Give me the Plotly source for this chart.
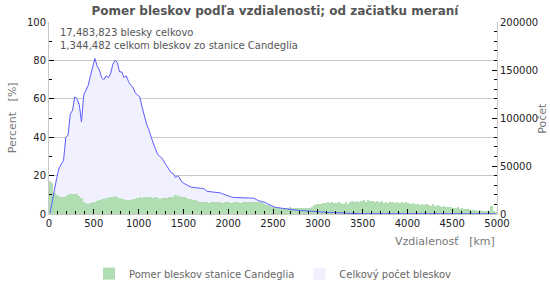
import plotly.graph_objects as go

# distance bins (km, left edge of each 25 km bin)
distance_km = list(range(0, 5000, 25))

# share of strikes recorded by station Candeglia (%)
candeglia_pct = [
    17, 16, 11, 10, 9.5, 9, 9, 9.5, 9.8, 10.2, 10.5, 10.4, 10.5, 9.5, 8.5, 6.5, 5.8, 5.3, 5.5, 6,
    6.3, 6.8, 7.2, 7.6, 8, 8.2, 8.5, 8.8, 9, 9.4, 8.8, 8.2, 8, 7.8, 7.5, 7.3, 7.4, 7.6, 8, 8.2,
    8.6, 8.4, 8.8, 9, 9, 8.6, 8.4, 8.6, 8.2, 8.0, 8.4, 8.2, 8.4, 8.6, 8.8, 9.0, 9.7, 9.5, 9.2, 8.8,
    8.6, 8.2, 7.8, 7.6, 7.4, 7.2, 6.8, 6.3, 6.2, 6.5, 6.0, 5.8, 6.2, 6.0, 6.3, 6.1, 6.0, 5.8, 6.2, 6.4,
    6.0, 5.9, 6.1, 6.3, 6.0, 5.8, 6.2, 6.0, 6.4, 6.1, 6.3, 6.0, 6.2, 6.5, 6.1, 5.5, 5.0, 4.5, 4.2, 3.8,
    3.6, 3.4, 3.2, 3.0, 3.3, 3.1, 3.0, 3.4, 3.2, 3.0, 3.3, 3.1, 2.9, 3.2, 3.0, 3.1, 3.3, 3.6, 4.5, 5.2,
    5.4, 5.0, 5.8, 5.5, 6.0, 5.6, 6.2, 5.8, 5.5, 6.0, 5.7, 5.4, 6.0, 5.2, 6.5, 7.0, 6.4, 6.8, 6.0, 6.6,
    7.2, 6.5, 7.4, 6.8, 7.0, 6.2, 6.8, 6.0, 6.6, 5.8, 6.2, 5.5, 6.0, 6.5, 5.6, 6.2, 5.8, 6.4, 5.5, 6.0,
    5.7, 5.2, 5.6, 5.0, 5.4, 4.8, 5.2, 4.6, 5.0, 4.8, 4.4, 5.0, 4.2, 4.6, 4.0, 3.6, 4.2, 3.8, 3.4, 3.6,
    3.2, 3.0, 3.4, 2.8, 3.0, 2.6, 2.4, 2.8, 2.2, 2.0, 2.2, 1.8, 2.0, 1.6, 1.8, 1.5, 1.4, 4.2, 1.6, 1.2,
]

# total number of strikes per distance bin
total_count = [
    1000, 12000, 26000, 38000, 48000, 52000, 56000, 80000, 82000, 104000,
    108000, 122000, 120000, 114000, 96000, 124000, 130000, 134000, 144000, 154000,
    162000, 154000, 150000, 142000, 140000, 144000, 142000, 146000, 156000, 160000,
    158000, 148000, 148000, 142000, 144000, 138000, 134000, 132000, 126000, 124000,
    122000, 112000, 102000, 94000, 88000, 80000, 74000, 68000, 62000, 60000,
    58000, 54000, 50000, 46000, 43000, 42000, 38000, 40000, 36000, 33000,
    31600, 30000, 29000, 28000, 27600, 27000, 26800, 26800, 26800, 26000,
    23600, 23400, 23000, 23000, 22400, 22000, 22000, 21000, 20000, 19400,
    18400, 17600, 17200, 17200, 17200, 17200, 17000, 17000, 16800, 16600,
    16400, 16400, 15200, 13800, 13400, 13000, 12000, 10800, 9600, 8000,
    7400, 6800, 6400, 6200, 5800, 5400, 5200, 4800, 4400, 4200,
    4000, 3800, 3600, 3200, 3000, 2800, 2600, 2400, 2200, 2000,
    2000, 2000, 1800, 1800, 1600, 1600, 1600, 1400, 1400, 1400,
    1200, 1200, 1000, 800, 600, 400, 300, 300, 300, 300,
    280, 300, 300, 280, 260, 300, 280, 260, 280, 300,
    280, 260, 260, 280, 300, 280, 260, 280, 260, 260,
    280, 260, 240, 260, 280, 260, 240, 260, 240, 260,
    240, 260, 240, 220, 240, 260, 240, 220, 240, 220,
    220, 240, 220, 200, 220, 240, 220, 200, 220, 200,
    200, 220, 200, 180, 200, 220, 200, 180, 200, 180,
]

bar_centers = [d + 12.5 for d in distance_km]

GREEN = "#b0deb2"
LAVENDER = "#f0f0fe"
BLUE = "#5c5cff"
FONT = "DejaVu Sans"

fig = go.Figure()

# area fill of total count (bottom layer, right axis = y)
fig.add_trace(go.Scatter(
    x=bar_centers, y=total_count, yaxis="y", mode="lines",
    line=dict(width=0, color=LAVENDER), fill="tozeroy", fillcolor=LAVENDER,
    showlegend=False, hoverinfo="skip",
))
# percentage bars (left axis = y2)
fig.add_trace(go.Bar(
    x=bar_centers, y=candeglia_pct, yaxis="y2", width=25,
    marker=dict(color=GREEN, line=dict(width=0)),
    name="Pomer bleskov stanice Candeglia",
))
# legend proxy for the total count
fig.add_trace(go.Bar(
    x=[None], y=[None], yaxis="y2",
    marker=dict(color=LAVENDER, line=dict(width=0)),
    name="Celkový počet bleskov",
))
# outline of total count (top layer)
fig.add_trace(go.Scatter(
    x=bar_centers, y=total_count, yaxis="y3", mode="lines",
    line=dict(width=1, color=BLUE), showlegend=False,
))

tickfont = dict(family=FONT, size=10, color="#222")

fig.update_layout(
    width=550, height=300,
    margin=dict(l=49, r=51, t=22, b=71),
    paper_bgcolor="white", plot_bgcolor="white",
    barmode="overlay", bargap=0,
    font=dict(family=FONT),
    title=dict(text="<b>Pomer bleskov podľa vzdialenosti; od začiatku meraní</b>",
               x=0.5, xanchor="center", y=0.965, yanchor="middle",
               font=dict(family=FONT, size=12, color="#555")),
    xaxis=dict(range=[0, 5000], dtick=500, tick0=0, ticks="inside", ticklen=5,
               tickcolor="#000", showline=True, linecolor="#c8c8c8", linewidth=1,
               showgrid=False, zeroline=False, tickfont=tickfont,
               minor=dict(dtick=100, ticks="inside", ticklen=3, tickcolor="#000")),
    yaxis=dict(range=[0, 200000], side="right", dtick=50000, ticks="inside",
               tickformat="d",
               ticklen=5, tickcolor="#000", showgrid=False, zeroline=False,
               showline=True, linecolor="#c8c8c8", tickfont=tickfont,
               minor=dict(dtick=10000, ticks="inside", ticklen=3, tickcolor="#000")),
    yaxis2=dict(range=[0, 100], overlaying="y", side="left", dtick=20,
                ticks="inside", ticklen=5, tickcolor="#000", showgrid=True,
                gridcolor="#c8c8c8", zeroline=False, showline=True,
                linecolor="#c8c8c8", tickfont=tickfont,
                minor=dict(dtick=10, ticks="inside", ticklen=3, tickcolor="#000")),
    yaxis3=dict(range=[0, 200000], overlaying="y", visible=False),
    legend=dict(orientation="h", x=0.5, xanchor="center", y=-0.235, yanchor="top",
                font=dict(family=FONT, size=10, color="#666"),
                itemwidth=30),
    annotations=[
        dict(text="17,483,823 blesky celkovo<br>1,344,482 celkom bleskov zo stanice Candeglia",
             xref="paper", yref="paper", x=0.02, y=0.985, xanchor="left", yanchor="top",
             align="left", showarrow=False,
             font=dict(family=FONT, size=10, color="#555")),
        dict(text="Percent   [%]", xref="paper", yref="paper", x=-0.082, y=0.5,
             xanchor="center", yanchor="middle", textangle=-90, showarrow=False,
             font=dict(family=FONT, size=11, color="#777")),
        dict(text="Počet", xref="paper", yref="paper", x=1.1, y=0.5,
             xanchor="center", yanchor="middle", textangle=-90, showarrow=False,
             font=dict(family=FONT, size=11, color="#777")),
        dict(text="Vzdialenosť   [km]", xref="paper", yref="paper", x=1.0, y=-0.1,
             xanchor="right", yanchor="top", showarrow=False,
             font=dict(family=FONT, size=11, color="#777")),
    ],
)

fig.write_html("out.html")
